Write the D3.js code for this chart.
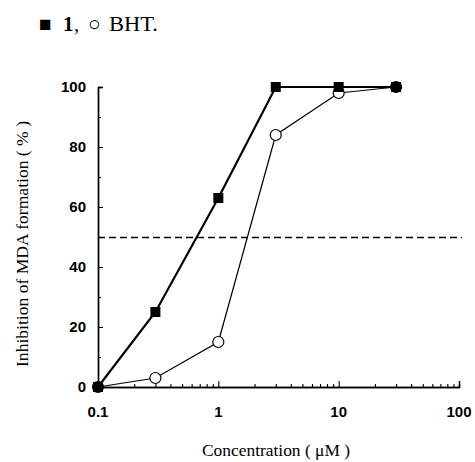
<!DOCTYPE html>
<html>
<head>
<meta charset="utf-8">
<script src="https://cdn.jsdelivr.net/npm/d3@7"></script>
<style>
  body { margin: 0; background: #fff; }
  text { fill: #000; }
</style>
</head>
<body>
<div id="chart"></div>
<script>
// data
let conc = [0.1, 0.3, 1, 3, 10, 30];
let comp1 = [0, 25, 63, 100, 100, 100];
let bht = [0, 3, 15, 84, 98, 100];
let xTicks = [0.1, 1, 10, 100];
let yTicks = [0, 20, 40, 60, 80, 100];
let halfLine = 50;

let width = 475, height = 462;
margin = {top: 87, right: 16, bottom: 75, left: 98};

let svg = d3.select("#chart").append("svg")
  .attr("width", width)
  .attr("height", height);

let g = svg.append("g")
  .attr("transform", "translate(" + margin.left + "," + margin.top + ")");

let xScale = d3.scaleLog().domain([0.1, 100]).range([0, 361]);
let yScale = d3.scaleLinear().domain([0, 100]).range([300, 0]);

// minor ticks on the log axis
let minor = [];
[0.1, 1, 10].forEach(function (d) {
  for (let k = 2; k <= 9; k++) minor.push(d * k);
});

// x axis: ticks point up into the plot
let xAxis = g.append("g").attr("transform", "translate(0,300)");
xAxis.call(d3.axisBottom(xScale).tickValues(minor).tickSize(-3).tickFormat(""));
xAxis.append("g").call(d3.axisBottom(xScale).tickValues(xTicks).tickSize(-6).tickFormat(""));
xAxis.selectAll(".domain").attr("stroke-width", 1.4);
xAxis.selectAll("line").attr("stroke-width", 1.1);

xTicks.forEach(function (t) {
  g.append("text")
    .attr("x", xScale(t))
    .attr("y", 330)
    .attr("text-anchor", "middle")
    .style("font-family", "Liberation Sans, Arial, sans-serif")
    .style("font-weight", "bold")
    .style("font-size", "15px")
    .text(t);
});

// y axis: ticks point right into the plot
let yAxis = g.append("g");
yAxis.call(d3.axisLeft(yScale).tickValues([10, 30, 50, 70, 90]).tickSize(-3).tickFormat(""));
yAxis.append("g").call(d3.axisLeft(yScale).tickValues(yTicks).tickSize(-5).tickFormat(""));
yAxis.selectAll(".domain").attr("stroke-width", 1.4);
yAxis.selectAll("line").attr("stroke-width", 1.1);

yTicks.forEach(function (t) {
  g.append("text")
    .attr("x", -12)
    .attr("y", yScale(t) + 5)
    .attr("text-anchor", "end")
    .style("font-family", "Liberation Sans, Arial, sans-serif")
    .style("font-weight", "bold")
    .style("font-size", "15px")
    .text(t);
});

// dashed 50% line
g.append("line")
  .attr("x1", 0).attr("x2", 364)
  .attr("y1", yScale(halfLine) + 0.5).attr("y2", yScale(halfLine) + 0.5)
  .attr("stroke", "#000")
  .attr("stroke-width", 1.4)
  .attr("stroke-dasharray", "7,4");

let line = d3.line()
  .x((d) => xScale(d[0]))
  .y((d) => yScale(d[1]));

let bhtData = conc.map((c, i) => [c, bht[i]]);
let c1Data = conc.map((c, i) => [c, comp1[i]]);

// BHT: thin line, open circles
g.append("path")
  .attr("d", line(bhtData))
  .attr("fill", "none")
  .attr("stroke", "#000")
  .attr("stroke-width", 1.2);

g.selectAll(".bht").data(bhtData).enter()
  .append("circle")
  .attr("class", "bht")
  .attr("cx", (d) => xScale(d[0]))
  .attr("cy", (d) => yScale(d[1]))
  .attr("r", 5.5)
  .attr("fill", "#fff")
  .attr("stroke", "#000")
  .attr("stroke-width", 1.2);

// compound 1: thick line, filled squares
g.append("path")
  .attr("d", line(c1Data))
  .attr("fill", "none")
  .attr("stroke", "#000")
  .attr("stroke-width", 2.2);

g.selectAll(".c1").data(c1Data).enter()
  .append("rect")
  .attr("class", "c1")
  .attr("x", (d) => xScale(d[0]) - 5)
  .attr("y", (d) => yScale(d[1]) - 5)
  .attr("width", 10)
  .attr("height", 10)
  .attr("fill", "#000");

// axis titles
svg.append("text")
  .attr("transform", "translate(28,244) rotate(-90)")
  .attr("text-anchor", "middle")
  .attr("textLength", 246)
  .attr("lengthAdjust", "spacingAndGlyphs")
  .style("font-family", "Liberation Serif, Times New Roman, serif")
  .style("font-size", "16px")
  .text("Inhibition of MDA formation ( % )");

svg.append("text")
  .attr("x", 276)
  .attr("y", 456)
  .attr("text-anchor", "middle")
  .attr("textLength", 148)
  .attr("lengthAdjust", "spacingAndGlyphs")
  .style("font-family", "Liberation Serif, Times New Roman, serif")
  .style("font-size", "16px")
  .text("Concentration (  \u03bcM )");

// legend line at the top
let leg = svg.append("g")
  .style("font-family", "Liberation Serif, Times New Roman, serif")
  .style("font-size", "21px");
leg.append("text").attr("x", 39).attr("y", 31).text("\u25a0");
leg.append("text").attr("x", 63).attr("y", 31).style("font-weight", "bold").text("1");
leg.append("text").attr("x", 74).attr("y", 31).text(",");
leg.append("text").attr("x", 88).attr("y", 31).text("\u25cb");
leg.append("text").attr("x", 109).attr("y", 31)
  .attr("textLength", 49)
  .attr("lengthAdjust", "spacingAndGlyphs")
  .text("BHT.");
</script>
</body>
</html>
